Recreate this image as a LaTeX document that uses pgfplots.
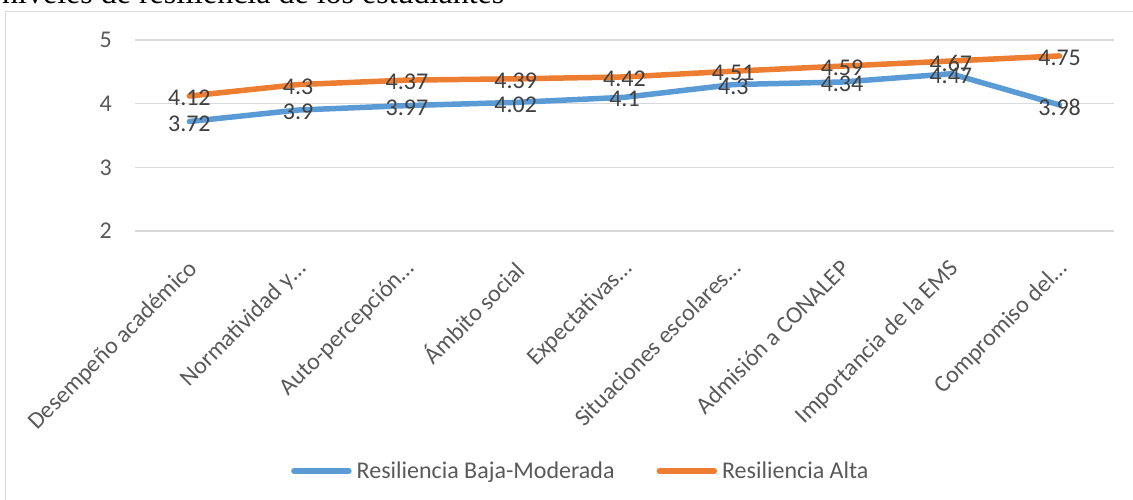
\documentclass[border=0pt]{standalone}
\usepackage{fontspec}
\setmainfont{Carlito}
\newfontfamily\titlefont{Liberation Serif}
\usepackage{pgfplots}
\pgfplotsset{compat=1.18}
\usepackage{pgfplotstable}
\definecolor{cblue}{HTML}{5B9BD5}
\definecolor{corange}{HTML}{ED7D31}
\definecolor{cgrid}{HTML}{D9D9D9}
\definecolor{ctext}{HTML}{404040}
\definecolor{ctick}{HTML}{595959}
\newcommand\chartfont{\fontsize{24bp}{28bp}\selectfont}

\pgfplotstableread{
x y lab
0 3.72 3.72
1 3.9 3.9
2 3.97 3.97
3 4.02 4.02
4 4.1 4.1
5 4.3 4.3
6 4.34 4.34
7 4.47 4.47
8 3.98 3.98
}\baja
\pgfplotstableread{
x y lab
0 4.12 4.12
1 4.3 4.3
2 4.37 4.37
3 4.39 4.39
4 4.42 4.42
5 4.51 4.51
6 4.59 4.59
7 4.67 4.67
8 4.75 4.75
}\alta

\begin{document}
\begin{tikzpicture}
\useasboundingbox (-135bp,-269bp) rectangle (998bp,231bp);
\clip (-135bp,-269bp) rectangle (998bp,231bp);
\draw[cgrid, line width=1.3bp] (-129.2bp,-280bp) -- (-129.2bp,219.3bp) -- (1010bp,219.3bp);
\node[anchor=base west, font=\titlefont\fontsize{32bp}{38bp}\selectfont, inner sep=0] at (-133bp,227bp) {niveles de resiliencia de los estudiantes};
\begin{axis}[
  at={(0bp,0bp)}, anchor=south west,
  scale only axis, width=979bp, height=191bp,
  xmin=-0.5, xmax=8.5, ymin=2, ymax=5,
  ytick={2,3,4,5}, xtick={0,...,8},
  xticklabels={{Desempeño académico}, {Normatividad y…}, {Auto-percepción…}, {Ámbito social}, {Expectativas…}, {Situaciones escolares…}, {Admisión a CONALEP}, {Importancia de la EMS}, {Compromiso del…}},
  axis line style={draw=none},
  major tick length=0pt,
  ymajorgrids, grid style={cgrid, line width=1.2bp},
  clip=false,
  /pgf/number format/assume math mode=true,
  yticklabel style={font=\chartfont, text=ctick, anchor=east, inner sep=0pt, xshift=-23bp},
  xticklabel style={font=\chartfont, text=ctick, xshift=-3bp, yshift=-27bp, rotate=45, anchor=north east, inner sep=0pt},
  legend style={at={(0.4543,-1.2565)}, anchor=center, draw=none, fill=none, font=\chartfont, text=ctick,
    legend columns=2, nodes={inner sep=0pt},
    /tikz/every odd column/.append style={column sep=5bp},
    /tikz/every even column/.append style={column sep=42bp}},
  legend image code/.code={\draw[#1, line cap=round] (0bp,0bp) -- (55bp,0bp);},
]
\addplot[cblue, line width=5.5bp, line cap=round, line join=round] table[x=x,y=y]{\baja};
\addlegendentry{Resiliencia Baja-Moderada}
\addplot[corange, line width=5.5bp, line cap=round, line join=round] table[x=x,y=y]{\alta};
\addlegendentry{Resiliencia Alta}
\addplot[draw=none, forget plot, point meta=explicit symbolic, nodes near coords,
  every node near coord/.style={anchor=center, yshift=-2bp, font=\chartfont, text=ctext, inner sep=0pt}] table[x=x,y=y,meta=lab]{\baja};
\addplot[draw=none, forget plot, point meta=explicit symbolic, nodes near coords,
  every node near coord/.style={anchor=center, yshift=-2bp, font=\chartfont, text=ctext, inner sep=0pt}] table[x=x,y=y,meta=lab]{\alta};
\end{axis}
\end{tikzpicture}
\end{document}
